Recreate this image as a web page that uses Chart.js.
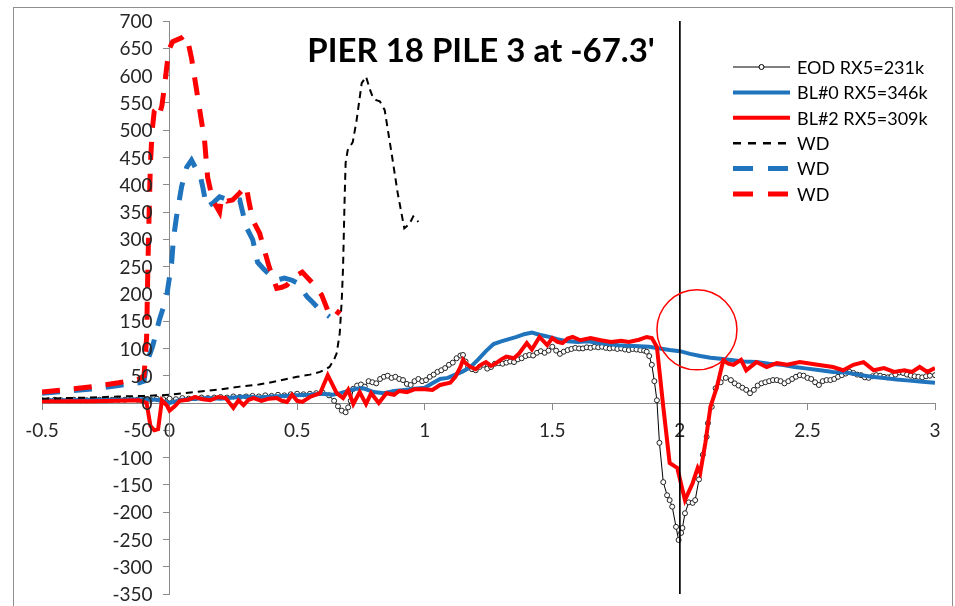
<!DOCTYPE html>
<html>
<head>
<meta charset="utf-8">
<script src="https://cdn.jsdelivr.net/npm/chart.js@4.4.0/dist/chart.umd.min.js"></script>
<style>
  html, body { margin: 0; padding: 0; background: #fff; }
  #wrap { position: relative; width: 955px; height: 606px; overflow: hidden; }
  #frame { position: absolute; left: 13px; top: 7px; width: 938px; height: 620px; border: 1px solid #8e8e8e; pointer-events: none; }
  canvas { position: absolute; left: 0; top: 0; }
</style>
</head>
<body>
<div id="wrap">
  <canvas id="myChart" width="955" height="606"></canvas>
  <div id="frame"></div>
</div>
<script>
// chart data
const chartTitle = "PIER 18 PILE 3 at -67.3'";
const seriesNames = ["EOD RX5=231k", "BL#0 RX5=346k", "BL#2 RX5=309k", "WD", "WD", "WD"];
const xTicks = [-0.5, 0, 0.5, 1, 1.5, 2, 2.5, 3];
const yTicks = [-350, -300, -250, -200, -150, -100, -50, 0, 50, 100, 150, 200, 250, 300, 350, 400, 450, 500, 550, 600, 650, 700];

// EOD RX5=231k (black, open circle markers)
const eod = [
  [-0.5,5],[-0.475,5],[-0.45,6],[-0.425,5],[-0.4,5],[-0.375,6],[-0.35,5],[-0.325,5],[-0.3,6],[-0.275,6],
  [-0.25,5],[-0.225,6],[-0.2,6],[-0.175,6],[-0.15,7],[-0.125,6],[-0.1,7],[-0.075,6],[-0.05,8],[-0.025,7],
  [0,8],[0.025,7],[0.05,9],[0.075,8],[0.1,9],[0.125,10],[0.15,9],[0.175,10],[0.2,11],[0.225,10],
  [0.25,12],[0.275,11],[0.3,12],[0.325,13],[0.35,12],[0.375,14],[0.4,13],[0.425,15],[0.45,14],[0.475,16],
  [0.5,17],[0.525,16],[0.55,17],[0.575,18],[0.6,19],[0.625,14],[0.645,4],[0.66,-6],[0.675,-14],[0.69,-17],
  [0.7,-8],[0.71,4],[0.72,26],[0.735,32],[0.75,34],[0.765,30],[0.78,40],[0.795,38],[0.81,36],[0.825,44],
  [0.84,48],[0.855,50],[0.87,46],[0.885,48],[0.9,44],[0.915,42],[0.93,35],[0.945,33],[0.96,40],[0.975,44],
  [0.99,40],[1.005,42],[1.02,48],[1.035,52],[1.05,57],[1.065,60],[1.08,64],[1.095,70],[1.11,74],[1.125,82],
  [1.14,87],[1.15,88],[1.16,76],[1.17,66],[1.185,62],[1.2,60],[1.215,66],[1.23,70],[1.245,63],[1.26,66],
  [1.275,72],[1.29,73],[1.305,72],[1.32,74],[1.335,76],[1.35,75],[1.365,80],[1.38,82],[1.395,86],[1.41,88],
  [1.425,87],[1.44,92],[1.455,95],[1.47,92],[1.485,96],[1.5,103],[1.515,96],[1.53,90],[1.545,94],[1.56,97],
  [1.575,99],[1.59,101],[1.605,100],[1.62,100],[1.635,102],[1.65,101],[1.665,103],[1.68,102],[1.695,103],[1.71,101],
  [1.725,100],[1.74,101],[1.755,99],[1.77,100],[1.785,98],[1.8,97],[1.815,99],[1.83,98],[1.845,97],[1.86,96],
  [1.87,94],[1.88,86],[1.89,70],[1.9,40],[1.91,5],[1.92,-73],[1.935,-145],[1.95,-169],[1.96,-178],[1.97,-190],
  [1.985,-227],[1.995,-251],[2.005,-238],[2.01,-229],[2.02,-202],[2.035,-182],[2.05,-183],[2.06,-178],[2.075,-140],[2.09,-95],
  [2.105,-62],[2.11,-37],[2.125,-7],[2.14,27],[2.16,38],[2.18,46],[2.2,42],[2.215,36],[2.23,32],[2.245,28],
  [2.26,24],[2.275,18],[2.29,24],[2.305,32],[2.32,36],[2.335,38],[2.35,40],[2.365,42],[2.38,42],[2.395,40],
  [2.41,36],[2.425,40],[2.44,44],[2.455,48],[2.47,51],[2.485,50],[2.5,46],[2.515,44],[2.53,38],[2.545,33],
  [2.56,40],[2.575,42],[2.59,42],[2.605,44],[2.62,48],[2.635,51],[2.65,54],[2.665,57],[2.68,55],[2.695,52],
  [2.71,51],[2.725,47],[2.74,46],[2.755,49],[2.77,51],[2.785,50],[2.8,48],[2.815,47],[2.83,49],[2.845,52],
  [2.86,56],[2.875,55],[2.89,52],[2.905,50],[2.92,49],[2.935,48],[2.95,47],[2.965,49],[2.98,50],[3,51]
];

// BL#0 RX5=346k (blue solid)
const bl0 = [
  [-0.5,5],[-0.4,5],[-0.3,6],[-0.2,6],[-0.1,7],[-0.05,6],[0,0],[0.05,6],[0.1,8],[0.15,9],
  [0.2,8],[0.25,10],[0.3,12],[0.35,10],[0.4,12],[0.45,13],[0.5,14],[0.55,15],[0.6,17],[0.64,15],
  [0.67,18],[0.7,22],[0.73,26],[0.76,27],[0.8,20],[0.84,18],[0.88,22],[0.92,24],[0.96,26],[1,28],
  [1.03,36],[1.06,44],[1.09,46],[1.12,52],[1.15,58],[1.18,66],[1.21,80],[1.24,95],[1.27,108],[1.3,113],
  [1.33,117],[1.36,121],[1.39,126],[1.42,129],[1.45,125],[1.48,122],[1.52,117],[1.56,113],[1.6,112],[1.64,113],
  [1.68,110],[1.72,108],[1.76,106],[1.8,105],[1.84,104],[1.88,103],[1.92,100],[1.96,97],[2,95],[2.04,90],
  [2.08,86],[2.12,83],[2.16,81],[2.2,79],[2.25,76],[2.3,75],[2.35,72],[2.4,70],[2.45,66],[2.5,63],
  [2.55,60],[2.6,57],[2.65,56],[2.7,52],[2.75,48],[2.8,46],[2.85,43],[2.9,41],[2.95,39],[3,37]
];

// BL#2 RX5=309k (red solid)
const bl2 = [
  [-0.5,3],[-0.4,3],[-0.3,3],[-0.2,4],[-0.12,5],[-0.09,0],[-0.075,-42],[-0.06,-50],[-0.045,-48],[-0.03,5],
  [-0.01,-5],[0,-14],[0.02,-6],[0.04,4],[0.07,6],[0.1,11],[0.13,7],[0.16,5],[0.19,11],[0.22,9],
  [0.25,-9],[0.27,5],[0.29,-4],[0.31,6],[0.33,9],[0.36,4],[0.39,8],[0.42,9],[0.44,4],[0.46,2],
  [0.48,15],[0.5,4],[0.52,2],[0.55,11],[0.59,18],[0.62,51],[0.655,18],[0.68,9],[0.7,24],[0.72,-2],
  [0.745,20],[0.77,-2],[0.79,18],[0.82,0],[0.85,18],[0.88,15],[0.9,22],[0.93,20],[0.96,25],[1,25],
  [1.03,24],[1.06,33],[1.1,37],[1.12,48],[1.14,66],[1.15,79],[1.16,73],[1.18,66],[1.2,62],[1.22,70],
  [1.24,75],[1.26,68],[1.28,73],[1.3,80],[1.32,85],[1.35,82],[1.37,91],[1.4,110],[1.42,98],[1.45,121],
  [1.48,106],[1.5,119],[1.52,112],[1.54,110],[1.56,118],[1.58,121],[1.61,115],[1.65,119],[1.69,115],[1.73,112],
  [1.77,114],[1.8,112],[1.84,116],[1.87,121],[1.89,119],[1.91,103],[1.935,-7],[1.96,-110],[1.99,-119],[2.02,-178],
  [2.05,-147],[2.07,-119],[2.08,-128],[2.1,-73],[2.12,-7],[2.145,29],[2.17,78],[2.19,72],[2.21,70],[2.24,79],
  [2.26,60],[2.3,75],[2.34,66],[2.38,73],[2.42,70],[2.47,75],[2.54,70],[2.6,66],[2.64,60],[2.68,70],
  [2.72,75],[2.76,60],[2.8,64],[2.84,57],[2.88,60],[2.91,57],[2.94,66],[2.97,57],[3,64]
];

// WD curves (dashed)
const wdEod = [
  [-0.5,8],[-0.4,9],[-0.3,10],[-0.2,12],[-0.1,13],[0,15],[0.1,20],[0.2,25],[0.275,30],[0.35,34],
  [0.39,37],[0.45,43],[0.5,48],[0.55,52],[0.59,57],[0.627,66],[0.645,80],[0.655,91],[0.667,128],[0.675,190],
  [0.68,249],[0.686,372],[0.69,440],[0.698,463],[0.718,478],[0.733,518],[0.753,586],[0.77,598],[0.785,575],[0.796,561],
  [0.81,555],[0.824,553],[0.843,537],[0.87,458],[0.894,385],[0.92,320],[0.94,328],[0.955,342],[0.975,332]
];
const wdBl0 = [
  [-0.5,18],[-0.4,22],[-0.3,26],[-0.2,32],[-0.12,37],[-0.1,40],[-0.09,73],[-0.067,103],[-0.04,152],[-0.012,194],
  [0.008,256],[0.015,300],[0.027,341],[0.047,396],[0.067,432],[0.086,445],[0.105,428],[0.118,421],[0.13,396],[0.145,359],
  [0.169,366],[0.196,378],[0.235,372],[0.275,372],[0.3,323],[0.326,299],[0.345,258],[0.366,247],[0.39,236],[0.42,225],
  [0.45,229],[0.48,225],[0.5,220],[0.52,207],[0.54,194],[0.56,185],[0.59,170],[0.61,164],[0.627,158]
];
const wdBl2 = [
  [-0.5,20],[-0.4,25],[-0.3,30],[-0.2,37],[-0.12,44],[-0.1,50],[-0.09,120],[-0.085,250],[-0.08,350],[-0.075,440],
  [-0.068,500],[-0.06,535],[-0.05,540],[-0.04,528],[-0.03,545],[-0.02,580],[-0.01,620],[0,650],[0.012,662],[0.047,669],
  [0.059,674],[0.07,667],[0.086,632],[0.118,537],[0.137,482],[0.149,414],[0.169,372],[0.196,350],[0.205,378],[0.225,370],
  [0.247,372],[0.275,385],[0.3,398],[0.31,372],[0.326,335],[0.353,311],[0.39,250],[0.42,210],[0.44,212],[0.46,216],
  [0.49,232],[0.52,240],[0.56,220],[0.596,198],[0.627,161],[0.647,158],[0.667,170]
];

// vertical marker at x = 2 and the red ring around the BL#0 crossing
const markerLine = [[2, 700], [2, -350]];
const ringCenter = [[2.067, 134]];

const BLUE = "#1f74bd";
const RED = "#ff0000";
const FONT = "Lato, 'Open Sans', sans-serif";
const LABEL = "#262626";

const toPts = (arr) => arr.map((p) => ({ x: p[0], y: p[1] }));

// title, y tick labels and legend drawn straight onto the canvas
const overlay = {
  id: "overlay",
  afterDraw(chart) {
    const ctx = chart.ctx;
    const xs = chart.scales.x;
    const ys = chart.scales.y;
    ctx.save();

    // y labels sit left of the axis that crosses at x = 0
    ctx.fillStyle = LABEL;
    ctx.font = "19px " + FONT;
    ctx.textAlign = "right";
    ctx.textBaseline = "middle";
    const axisX = xs.getPixelForValue(0);
    yTicks.forEach((v) => {
      ctx.fillText(String(v), axisX - 17, ys.getPixelForValue(v) + 1);
    });

    ctx.fillStyle = "#000";
    ctx.font = "bold 33px " + FONT;
    ctx.textAlign = "center";
    ctx.textBaseline = "alphabetic";
    ctx.fillText(chartTitle, 481, 62);

    const styles = [
      { color: "#000", width: 1, dash: [], marker: true },
      { color: BLUE, width: 4, dash: [] },
      { color: RED, width: 4, dash: [] },
      { color: "#000", width: 2.5, dash: [8, 7] },
      { color: BLUE, width: 5, dash: [20, 15] },
      { color: RED, width: 5, dash: [20, 15] },
    ];
    ctx.font = "18px " + FONT;
    ctx.textAlign = "left";
    ctx.textBaseline = "middle";
    seriesNames.forEach((name, i) => {
      const y = 67 + i * 25.4;
      const s = styles[i];
      ctx.strokeStyle = s.color;
      ctx.lineWidth = s.width;
      ctx.setLineDash(s.dash);
      ctx.beginPath();
      ctx.moveTo(733, y);
      ctx.lineTo(790, y);
      ctx.stroke();
      ctx.setLineDash([]);
      if (s.marker) {
        ctx.beginPath();
        ctx.arc(761.5, y, 2.5, 0, Math.PI * 2);
        ctx.fillStyle = "#fff";
        ctx.fill();
        ctx.strokeStyle = "#000";
        ctx.lineWidth = 1;
        ctx.stroke();
      }
      ctx.fillStyle = "#000";
      ctx.fillText(name, 797, y + 1);
    });
    ctx.restore();
  },
};

const ctx = document.getElementById("myChart").getContext("2d");
new Chart(ctx, {
  type: "scatter",
  data: {
    datasets: [
      {
        label: seriesNames[0], data: toPts(eod), showLine: true, order: 7,
        borderColor: "#000", borderWidth: 1, pointRadius: 2.5,
        pointBackgroundColor: "#fff", pointBorderColor: "#222", pointBorderWidth: 1,
      },
      {
        label: seriesNames[1], data: toPts(bl0), showLine: true, order: 6,
        borderColor: BLUE, borderWidth: 4, pointRadius: 0,
      },
      {
        label: seriesNames[2], data: toPts(bl2), showLine: true, order: 5,
        borderColor: RED, borderWidth: 4, pointRadius: 0,
      },
      {
        label: seriesNames[3], data: toPts(wdEod), showLine: true, order: 4,
        borderColor: "#000", borderWidth: 2, borderDash: [7, 5], pointRadius: 0,
      },
      {
        label: seriesNames[4], data: toPts(wdBl0), showLine: true, order: 3,
        borderColor: BLUE, borderWidth: 5, borderDash: [18, 14], pointRadius: 0,
      },
      {
        label: seriesNames[5], data: toPts(wdBl2), showLine: true, order: 2,
        borderColor: RED, borderWidth: 5, borderDash: [18, 14], pointRadius: 0,
      },
      {
        label: "marker", data: toPts(markerLine), showLine: true, order: 1,
        borderColor: "#000", borderWidth: 1, pointRadius: 0,
      },
      {
        label: "ring", data: toPts(ringCenter), showLine: false, order: 0,
        pointRadius: 40, pointStyle: "circle", backgroundColor: "rgba(0,0,0,0)",
        borderColor: RED, pointBorderWidth: 1.5, pointBorderColor: RED,
      },
    ],
  },
  options: {
    responsive: false,
    animation: false,
    events: [],
    layout: { autoPadding: false, padding: { left: 42, top: 21, right: 20, bottom: 12 } },
    plugins: { legend: { display: false }, tooltip: { enabled: false }, title: { display: false } },
    scales: {
      x: {
        type: "linear",
        position: { y: 0 },
        min: -0.5,
        max: 3,
        afterBuildTicks: (axis) => { axis.ticks = xTicks.map((v) => ({ value: v })); },
        ticks: { color: LABEL, font: { family: FONT, size: 19 }, padding: 10, maxRotation: 0, autoSkip: false,
                 callback: (v) => String(v) },
        grid: { drawOnChartArea: false, drawTicks: true, tickLength: 6, color: "#8a8a8a" },
        border: { display: true, color: "#8a8a8a", width: 1 },
      },
      y: {
        type: "linear",
        position: { x: 0 },
        min: -350,
        max: 700,
        afterBuildTicks: (axis) => { axis.ticks = yTicks.map((v) => ({ value: v })); },
        // labels are painted by the overlay plugin so they can sit clear of the axis
        ticks: { color: "rgba(0,0,0,0)", font: { family: FONT, size: 12 }, padding: 0, autoSkip: false },
        grid: { drawOnChartArea: false, drawTicks: true, tickLength: 6, color: "#8a8a8a" },
        border: { display: true, color: "#8a8a8a", width: 1 },
      },
    },
  },
  plugins: [overlay],
});
</script>
</body>
</html>
